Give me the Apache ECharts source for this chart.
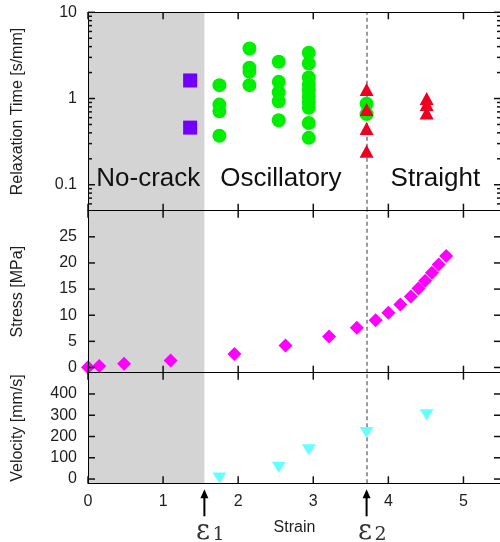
<!DOCTYPE html>
<html>
<head>
<meta charset="UTF-8">
<title>Strain regimes</title>
<script src="https://cdn.jsdelivr.net/npm/echarts@6/dist/echarts.min.js"></script>
<style>
html, body { margin: 0; padding: 0; background: #fff; }
#main { width: 500px; height: 542px; }
</style>
</head>
<body>
<div id="main"></div>
<script>
// top panel: relaxation time
var noCrackStrain = [1.36, 1.36];
var noCrackTime = [1.62, 0.46];
var oscStrain = [1.75, 1.75, 1.75, 1.75,
                 2.15, 2.15, 2.15, 2.15,
                 2.54, 2.54, 2.54, 2.54, 2.54,
                 2.94, 2.94, 2.94, 2.94, 2.94, 2.94, 2.94, 2.94, 2.94, 2.94,
                 3.71, 3.71];
var oscTime = [1.43, 0.85, 0.71, 0.37,
               3.8, 2.28, 2.04, 1.43,
               2.67, 1.56, 1.18, 0.93, 0.56,
               3.4, 2.55, 1.75, 1.45, 1.25, 1.05, 0.9, 0.78, 0.52, 0.35,
               0.87, 0.66];
var straightStrain = [3.71, 3.71, 3.71, 3.71, 4.51, 4.51, 4.51];
var straightTime = [1.27, 0.745, 0.45, 0.244, 1.0, 0.85, 0.68];

// middle panel: stress
var stressStrain = [0, 0.15, 0.48, 1.1, 1.95, 2.63, 3.21, 3.58, 3.83, 4.0, 4.16, 4.30, 4.40, 4.49, 4.58, 4.67, 4.77];
var stressVal = [0.05, 0.3, 0.7, 1.35, 2.6, 4.2, 5.95, 7.6, 9.05, 10.45, 12.05, 13.6, 15.1, 16.6, 18.15, 19.7, 21.35];

// bottom panel: velocity
var velStrain = [1.75, 2.54, 2.94, 3.71, 4.51];
var velVal = [5, 56, 138, 219, 302];

// ticks
var xTicks = [0, 1, 2, 3, 4, 5];
var timeTicks = [0.1, 1, 10];
var timeMinor = [0.06, 0.07, 0.08, 0.09, 0.2, 0.3, 0.4, 0.5, 0.6, 0.7, 0.8, 0.9, 2, 3, 4, 5, 6, 7, 8, 9];
var stressTicks = [0, 5, 10, 15, 20, 25];
var velTicks = [0, 100, 200, 300, 400];

// regimes
var eps1 = 1.55;
var eps2 = 3.71;
var regionNames = ['No-crack', 'Oscillatory', 'Straight'];
var regionStart = [0.11, 1.76, 4.03];

var F = '"Liberation Sans", Arial, sans-serif';
var TXT = '#1e1e1e';

function pairs(xs, ys) {
	var out = [];
	for (var i = 0; i < xs.length; i++) out.push([xs[i], ys[i]]);
	return out;
}

function xAx(grid, pos, withLabels) {
	var a = {
		type: 'value', gridIndex: grid, position: pos, min: 0, max: 5.5, z: 5,
		axisLine: { show: true, onZero: false, lineStyle: { color: '#000', width: 1 } },
		axisTick: { show: false },
		axisLabel: { show: withLabels, customValues: xTicks, margin: 10, color: TXT, fontSize: 16, fontFamily: F },
		splitLine: { show: false }
	};
	return a;
}

function yAx(grid, pos, opt) {
	var a = {
		type: opt.type || 'value', gridIndex: grid, position: pos, min: opt.min, max: opt.max, z: 5,
		axisLine: { show: true, onZero: false, lineStyle: { color: '#000', width: 1 } },
		axisTick: { show: false },
		axisLabel: { show: !!opt.labels, customValues: opt.ticks, margin: 11, color: TXT, fontSize: 16, fontFamily: F },
		splitLine: { show: false }
	};
	if (opt.type === 'log') a.logBase = 10;
	if (opt.name) {
		a.name = opt.name;
		a.nameLocation = 'middle';
		a.nameRotate = 90;
		a.nameGap = 62;
		a.nameTextStyle = { color: TXT, fontSize: 16, fontFamily: F };
	}
	return a;
}

// inward ticks on both sides of a panel, placed through the axis scales
function tickSeries(xi, yi, dim, vals, len, other) {
	return {
		type: 'custom', xAxisIndex: xi, yAxisIndex: yi, silent: true, z: 6, clip: false,
		data: vals.map(function (v) { return dim === 'x' ? [v, other] : [other, v]; }),
		renderItem: function (params, api) {
			var cs = params.coordSys;
			var p = api.coord([api.value(0), api.value(1)]);
			var st = { stroke: '#111', lineWidth: 1.5 };
			if (dim === 'x') {
				var x = p[0];
				return { type: 'group', children: [
					{ type: 'line', shape: { x1: x, y1: cs.y, x2: x, y2: cs.y + len }, style: st },
					{ type: 'line', shape: { x1: x, y1: cs.y + cs.height, x2: x, y2: cs.y + cs.height - len }, style: st }
				] };
			}
			var y = p[1];
			return { type: 'group', children: [
				{ type: 'line', shape: { x1: cs.x, y1: y, x2: cs.x + len, y2: y }, style: st },
				{ type: 'line', shape: { x1: cs.x + cs.width, y1: y, x2: cs.x + cs.width - len, y2: y }, style: st }
			] };
		}
	};
}

function shade() {
	return { silent: true, z: 1, itemStyle: { color: '#d4d4d4' }, label: { show: false },
		data: [[{ xAxis: 0 }, { xAxis: eps1 }]] };
}
function dash() {
	return { silent: true, z: 1, symbol: 'none', label: { show: false },
		lineStyle: { type: [4, 3], color: '#9a9a9a', width: 2 },
		data: [{ xAxis: eps2 }] };
}

var chart = echarts.init(document.getElementById('main'), null, { renderer: 'canvas' });

var option = {
	animation: false,
	backgroundColor: '#fff',
	textStyle: { fontFamily: F },
	grid: [
		{ left: 88, top: 12.3, width: 413, height: 198.4, outerBoundsMode: 'none' },
		{ left: 88, top: 210.7, width: 413, height: 162, outerBoundsMode: 'none' },
		{ left: 88, top: 372.7, width: 413, height: 110.6, outerBoundsMode: 'none' }
	],
	xAxis: [
		xAx(0, 'bottom', false), xAx(0, 'top', false),
		xAx(1, 'bottom', false), xAx(1, 'top', false),
		xAx(2, 'bottom', true), xAx(2, 'top', false)
	],
	yAxis: [
		yAx(0, 'left', { type: 'log', min: 0.05, max: 10, ticks: timeTicks, labels: true, name: 'Relaxation Time [s/mm]' }),
		yAx(0, 'right', { type: 'log', min: 0.05, max: 10, ticks: timeTicks }),
		yAx(1, 'left', { min: -1, max: 30, ticks: stressTicks, labels: true, name: 'Stress [MPa]' }),
		yAx(1, 'right', { min: -1, max: 30, ticks: stressTicks }),
		yAx(2, 'left', { min: -20, max: 500, ticks: velTicks, labels: true, name: 'Velocity [mm/s]' }),
		yAx(2, 'right', { min: -20, max: 500, ticks: velTicks })
	],
	series: [
		{
			type: 'scatter', xAxisIndex: 0, yAxisIndex: 0, z: 3,
			symbol: 'rect', symbolSize: 14,
			itemStyle: { color: '#7000ff', opacity: 1 },
			data: pairs(noCrackStrain, noCrackTime),
			markArea: shade()
		},
		{
			type: 'scatter', xAxisIndex: 0, yAxisIndex: 0, z: 3,
			symbol: 'circle', symbolSize: 14,
			itemStyle: { color: '#00ee00', opacity: 1 },
			data: pairs(oscStrain, oscTime),
			markLine: dash()
		},
		{
			type: 'scatter', xAxisIndex: 0, yAxisIndex: 0, z: 4,
			symbol: 'triangle', symbolSize: [14, 13],
			itemStyle: { color: '#ee0022', opacity: 1 },
			data: pairs(straightStrain, straightTime)
		},
		{
			type: 'scatter', xAxisIndex: 2, yAxisIndex: 2, z: 3,
			symbol: 'diamond', symbolSize: 14,
			itemStyle: { color: '#ff00ff', opacity: 1 },
			data: pairs(stressStrain, stressVal),
			markArea: shade(),
			markLine: dash()
		},
		{
			type: 'scatter', xAxisIndex: 4, yAxisIndex: 4, z: 3,
			symbol: 'triangle', symbolRotate: 180, symbolSize: [14, 11],
			itemStyle: { color: '#66ffff', opacity: 1 },
			data: pairs(velStrain, velVal),
			markArea: shade(),
			markLine: dash()
		},
		tickSeries(0, 0, 'x', xTicks, 7, 1),
		tickSeries(0, 0, 'y', timeTicks, 7, 1),
		tickSeries(0, 0, 'y', timeMinor, 4, 1),
		tickSeries(2, 2, 'x', xTicks, 7, 0),
		tickSeries(2, 2, 'y', stressTicks, 7, 1),
		tickSeries(4, 4, 'x', xTicks, 7, 0),
		tickSeries(4, 4, 'y', velTicks, 7, 1)
	]
};
chart.setOption(option);

// regime labels, x axis name, epsilon arrows
var g = [];
regionNames.forEach(function (n, i) {
	var p = chart.convertToPixel({ gridIndex: 0 }, [regionStart[i], 0.1175]);
	g.push({ type: 'text', x: p[0], y: p[1], z: 20,
		style: { text: n, font: '26px ' + F, fill: '#111', verticalAlign: 'middle', align: 'left' } });
});
var bottomY = chart.convertToPixel({ yAxisIndex: 4 }, -20);
g.push({ type: 'text', x: chart.convertToPixel({ xAxisIndex: 4 }, 2.75), y: bottomY + 44, z: 20,
	style: { text: 'Strain', font: '16px ' + F, fill: TXT, align: 'center', verticalAlign: 'middle' } });
[eps1, eps2].forEach(function (e, i) {
	var px = chart.convertToPixel({ xAxisIndex: 4 }, e);
	g.push({ type: 'line', z: 20, shape: { x1: px, y1: bottomY + 14, x2: px, y2: bottomY + 33 },
		style: { stroke: '#000', lineWidth: 2 } });
	g.push({ type: 'polygon', z: 20, shape: { points: [[px - 4, bottomY + 15], [px, bottomY + 6], [px + 4, bottomY + 15]] },
		style: { fill: '#000' } });
	g.push({ type: 'text', x: px - 1.5, y: bottomY + 49, z: 20,
		style: { text: 'ε', font: '27px "DejaVu Serif", serif', fill: '#333', align: 'center', verticalAlign: 'middle' } });
	g.push({ type: 'text', x: px + 8, y: bottomY + 52, z: 20,
		style: { text: String(i + 1), font: '19px "DejaVu Serif", serif', fill: '#333', align: 'left', verticalAlign: 'middle' } });
});
chart.setOption({ graphic: g });
</script>
</body>
</html>
